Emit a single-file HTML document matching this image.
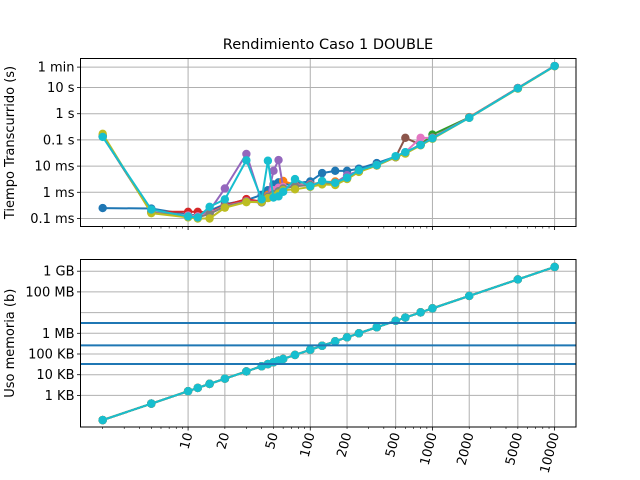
<!DOCTYPE html>
<html><head><meta charset="utf-8"><style>
body{margin:0;background:#fff}
svg{display:block;font-family:"DejaVu Sans","Liberation Sans",sans-serif}
</style></head><body>
<svg id="fig" width="640" height="480" viewBox="0 0 640 480"></svg>
<script>
const Ns = [2,5,10,12,15,20,30,40,45,50,55,60,75,100,125,160,200,250,350,500,600,800,1000,2000,5000,10000];
const timeBlue   = [2.5e-4,2.4e-4,1.4e-4,1.3e-4,2e-4,3.5e-4,5e-4,8e-4,1.2e-3,2e-3,2.4e-3,2e-3,2.2e-3,2.6e-3,5.4e-3,6.6e-3,6.6e-3,8e-3,0.013,0.023,0.033,0.065,0.12,0.72,9.4,66];
const timeOrange = [0.14,1.8e-4,1.3e-4,1.2e-4,1.6e-4,3e-4,4.5e-4,4.5e-4,8e-4,1e-3,1.3e-3,2.7e-3,1.9e-3,2e-3,2.4e-3,2.6e-3,3.6e-3,6.5e-3,0.011,0.022,0.032,0.065,0.12,0.74,9.5,66];
const timeGreen  = [0.14,1.8e-4,1.3e-4,1.2e-4,1.6e-4,3e-4,4.5e-4,4.2e-4,7e-4,9e-4,1.2e-3,1.5e-3,1.8e-3,2e-3,2.2e-3,2.3e-3,3.6e-3,6.5e-3,0.011,0.022,0.032,0.065,0.16,0.72,9.5,66];
const timeRed    = [0.14,1.8e-4,1.8e-4,1.8e-4,1.7e-4,3.2e-4,5.5e-4,4.4e-4,7e-4,9e-4,1.2e-3,1.5e-3,1.8e-3,2e-3,2.2e-3,2.3e-3,3.6e-3,6.5e-3,0.011,0.022,0.032,0.065,0.12,0.72,9.5,66];
const timePurple = [0.14,1.8e-4,1.3e-4,1.2e-4,2e-4,1.4e-3,0.029,4.5e-4,7e-4,6.6e-3,0.017,1.5e-3,1.8e-3,2e-3,2.2e-3,2.3e-3,4.5e-3,6.5e-3,0.011,0.022,0.032,0.065,0.12,0.72,9.5,66];
const timeBrown  = [0.14,1.8e-4,1.3e-4,1.2e-4,1.6e-4,3e-4,4.5e-4,4.2e-4,7e-4,9e-4,1.2e-3,1.5e-3,1.8e-3,2e-3,2.2e-3,2.1e-3,3.4e-3,6.2e-3,0.011,0.022,0.12,0.065,0.12,0.72,9.5,66];
const timePink   = [0.14,1.8e-4,1.3e-4,1.2e-4,1.6e-4,3e-4,4.5e-4,4.2e-4,7e-4,1.2e-3,1.5e-3,1.6e-3,1.8e-3,2e-3,2.2e-3,2.3e-3,3.6e-3,6.5e-3,0.011,0.022,0.034,0.12,0.12,0.72,9.5,66];
const timeGray   = [0.14,1.7e-4,1.2e-4,1.1e-4,1.5e-4,2.9e-4,4.4e-4,4.1e-4,6.8e-4,8.5e-4,1.1e-3,1.4e-3,1.7e-3,1.9e-3,2.1e-3,2.2e-3,3.4e-3,6.2e-3,0.0105,0.022,0.031,0.063,0.115,0.7,9.3,65];
const timeOlive  = [0.17,1.6e-4,1.1e-4,1.0e-4,1.0e-4,2.6e-4,4.2e-4,4.3e-4,6e-4,7e-4,9e-4,1.2e-3,1.3e-3,1.6e-3,2e-3,1.9e-3,3.2e-3,6e-3,0.0105,0.022,0.03,0.062,0.11,0.7,9.0,65];
const timeCyan   = [0.13,2.2e-4,1.2e-4,1.1e-4,2.8e-4,5.4e-4,0.0167,5.4e-4,0.016,6.3e-4,7e-4,1.05e-3,3.2e-3,1.7e-3,2.7e-3,2.3e-3,3.6e-3,6.9e-3,0.011,0.024,0.034,0.064,0.115,0.7,9.3,66];
const memBytes = [64,400,1600,2304,3600,6400,14400,25600,32400,40000,48400,57600,90000,160000,250000,409600,640000,1e6,1.96e6,4e6,5.76e6,1.024e7,1.6e7,6.4e7,4e8,1.6e9];
const cacheLines = [3145728,262144,32768];
const xTickVals = [10,20,50,100,200,500,1000,2000,5000,10000];
const xTickLabels = ["10","20","50","100","200","500","1000","2000","5000","10000"];
const tTickVals = [60,10,1,0.1,0.01,0.001,0.0001];
const tTickLabels = ["1 min","10 s","1 s","0.1 s","10 ms","1 ms","0.1 ms"];
const mTickVals = [1e9,1e8,1e6,1e5,1e4,1e3];
const mTickLabels = ["1 GB","100 MB","1 MB","100 KB","10 KB","1 KB"];

const NS="http://www.w3.org/2000/svg";
const svg=document.getElementById('fig');
function mk(tag,attrs,parent){const e=document.createElementNS(NS,tag);for(const k in attrs)e.setAttribute(k,attrs[k]);(parent||svg).appendChild(e);return e;}
const L=80.5,R=576;
const x=v=>L+(Math.log10(v)-0.1194)/(4.175-0.1194)*(R-L);
const T1=58.5,B1=226.5, T2=259.5,B2=427;
const yT=v=>113.7-26.2*Math.log10(v);
const yM=v=>271.2-20.7*(Math.log10(v)-9);
const series=[["blue","#1f77b4",timeBlue],["orange","#ff7f0e",timeOrange],["green","#2ca02c",timeGreen],["red","#d62728",timeRed],["purple","#9467bd",timePurple],["brown","#8c564b",timeBrown],["pink","#e377c2",timePink],["gray","#7f7f7f",timeGray],["olive","#bcbd22",timeOlive],["cyan","#17becf",timeCyan]];

const title=mk('text',{x:328,y:49,'text-anchor':'middle','font-size':14.5,fill:'#000'});
title.textContent='Rendimiento Caso 1 DOUBLE';



function axes(T,B,name,yFn,yTickV,yTickL,extraGrid,ylabel,gridX){
  const g=mk('g',{});
  
  
  gridX.forEach(v=>mk('line',{x1:x(v),x2:x(v),y1:T,y2:B,stroke:'#b0b0b0','stroke-width':1},g));
  yTickV.concat(extraGrid).forEach(v=>mk('line',{x1:L,x2:R,y1:yFn(v),y2:yFn(v),stroke:'#b0b0b0','stroke-width':1},g));
  yTickV.forEach((v,i)=>{
    mk('line',{x1:L-3.5,x2:L,y1:yFn(v),y2:yFn(v),stroke:'#000','stroke-width':0.8},g);
    const t=mk('text',{x:L-6,y:yFn(v)+4.5,'text-anchor':'end','font-size':13,fill:'#000'},g);
    t.textContent=yTickL[i];
    
    
  });
  for(let d=1;d<=10000;d*=10){for(let k=1;k<10;k++){const v=d*k;if(v<1.3||v>15000)continue;const px=x(v);if(px<L||px>R)continue;
    mk('line',{x1:px,x2:px,y1:B,y2:B+(k===1?3.5:2),stroke:'#000','stroke-width':k===1?0.8:0.6},g);}}
  const yl=mk('text',{transform:`translate(14,${(T+B)/2}) rotate(-90)`,'text-anchor':'middle','font-size':13,fill:'#000'},g);
  yl.textContent=ylabel;
  
  
  return g;
}
const topAx=axes(T1,B1,'time-axes',yT,tTickVals,tTickLabels,[],'Tiempo Transcurrido (s)',[10,100,1000,10000]);
const botAx=axes(T2,B2,'memory-axes',yM,mTickVals,mTickLabels,[1e7],'Uso memoria (b)',xTickVals);

series.forEach(s=>{
  const g=mk('g',{},topAx);
  
  
  const pts=Ns.map((n,i)=>x(n)+','+yT(s[2][i])).join(' ');
  mk('polyline',{points:pts,fill:'none',stroke:s[1],'stroke-width':2},g);
  Ns.forEach((n,i)=>{const c=mk('circle',{cx:x(n),cy:yT(s[2][i]),r:4.2,fill:s[1]},g);
    
    });
});
series.forEach(s=>{
  const g=mk('g',{},botAx);
  
  
  mk('polyline',{points:Ns.map((n,i)=>x(n)+','+yM(memBytes[i])).join(' '),fill:'none',stroke:s[1],'stroke-width':2},g);
  Ns.forEach((n,i)=>{const c=mk('circle',{cx:x(n),cy:yM(memBytes[i]),r:4.2,fill:s[1]},g);
    
    });
});
cacheLines.forEach(v=>{const l=mk('line',{x1:L,x2:R,y1:yM(v),y2:yM(v),stroke:'#1f77b4','stroke-width':2},botAx);
  
  });
xTickVals.forEach((v,i)=>{
  const t=mk('text',{transform:`translate(${x(v)+4.5},${B2+7}) rotate(-75)`,'text-anchor':'end','font-size':13,fill:'#000'},botAx);
  t.textContent=xTickLabels[i];
  
  
});
[[T1,B1],[T2,B2]].forEach(a=>{const f=mk('rect',{x:L,y:a[0],width:R-L,height:a[1]-a[0],fill:'none',stroke:'#000','stroke-width':1});
  
  });
</script>
</body></html>
